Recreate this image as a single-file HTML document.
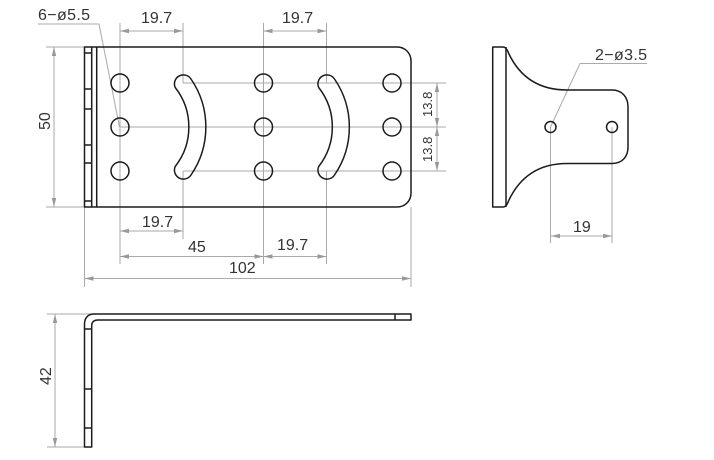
<!DOCTYPE html>
<html><head><meta charset="utf-8"><style>
html,body{margin:0;padding:0;background:#fff;width:714px;height:460px;overflow:hidden}
svg{display:block}
text{font-family:"Liberation Sans",sans-serif;font-size:16px;fill:#333}
.d{stroke:#aaa;stroke-width:1;fill:none}
.o{stroke:#1c1c1c;stroke-width:1.5;fill:none;stroke-linejoin:round}
.a{fill:#999;stroke:none}
</style></head><body>
<svg width="714" height="460" viewBox="0 0 714 460" xmlns="http://www.w3.org/2000/svg">
<defs>
<path id="ar" class="a" d="M0 0L9 -2.2V2.2Z"/>
<path id="al" class="a" d="M0 0L-9 -2.2V2.2Z"/>
<path id="au" class="a" d="M0 0L-2.2 9H2.2Z"/>
<path id="ad" class="a" d="M0 0L-2.2 -9H2.2Z"/>
<path id="slot" class="o" d="M-7.800 4.500A9 9 0 0 1 8 -4A85 85 0 0 1 8 92A9 9 0 0 1 -7.800 83.500A64 64 0 0 0 -7.800 4.500Z"/>
</defs>

<!-- grey dimension geometry: front view -->
<path class="d" d="M120 23V264M183 23V83M183 171V239M263.500 23V264M326.500 23V83M326.500 171V264
M183 83H446M120 127H446M183 171H446
M437 83V171
M46 47H84M46 207H84M54 47V207
M84.500 207V287M411 207V287
M120 31H183M263.500 31H326.500
M120 231H183M120 256.500H326.500M84.500 278.500H411
M38 24H99L119.500 127"/>
<use href="#ar" x="120" y="31"/><use href="#al" x="183" y="31"/>
<use href="#ar" x="263.500" y="31"/><use href="#al" x="326.500" y="31"/>
<use href="#ar" x="120" y="231"/><use href="#al" x="183" y="231"/>
<use href="#ar" x="120" y="256.500"/><use href="#al" x="263.500" y="256.500"/>
<use href="#ar" x="263.500" y="256.500"/><use href="#al" x="326.500" y="256.500"/>
<use href="#ar" x="84.500" y="278.500"/><use href="#al" x="411" y="278.500"/>
<use href="#au" x="54" y="47"/><use href="#ad" x="54" y="207"/>
<use href="#au" x="437" y="83"/><use href="#ad" x="437" y="127"/>
<use href="#au" x="437" y="127"/><use href="#ad" x="437" y="171"/>

<!-- front view outline -->
<path class="o" d="M84.500 47H397C405 47 411 53 411 61V193C411 201 405 207 397 207H84.500Z"/>
<path class="o" d="M91.700 47V207M96.700 47V207M84.500 53H91.700M84.500 89H91.700M84.500 109H91.700M84.500 145H91.700M84.500 163H91.700M84.500 201H91.700"/>
<circle class="o" cx="120" cy="83" r="9"/><circle class="o" cx="120" cy="127" r="9"/><circle class="o" cx="120" cy="171" r="9"/>
<circle class="o" cx="263.500" cy="83" r="9"/><circle class="o" cx="263.500" cy="127" r="9"/><circle class="o" cx="263.500" cy="171" r="9"/>
<circle class="o" cx="392" cy="83" r="9"/><circle class="o" cx="392" cy="127" r="9"/><circle class="o" cx="392" cy="171" r="9"/>
<use href="#slot" x="183" y="83"/><use href="#slot" x="326.500" y="83"/>

<!-- side view -->
<path class="d" d="M550.500 127V243M612 127V243M551 236H612M550.500 127L580 63.500H647"/>
<use href="#ar" x="551" y="236"/><use href="#al" x="612" y="236"/>
<path class="o" d="M492.700 47H503C506 47 507.500 50 508.500 53C515 67 530 90 567 90H612C622 90 628 97 628 107V147C628 157 622 163.500 612 163.500H567C530 163.500 515 187 508.500 201C507.500 204 506 207 503 207H492.700Z"/>
<path class="o" d="M506 47V207"/>
<circle class="o" cx="550.500" cy="127" r="5.500"/><circle class="o" cx="612" cy="127" r="5.500"/>

<!-- bottom view -->
<path class="d" d="M47 314H100M47 447H84M55 314V447"/>
<use href="#au" x="55" y="314"/><use href="#ad" x="55" y="447"/>
<path class="o" d="M411 314H94C88 314 84.500 318 84.500 324V447H91.700V326C91.700 322 94 320 98 320H411Z"/>
<path class="o" d="M395 314V320M84.500 329H91.700M84.500 389H91.700M84.500 428H91.700"/>

<!-- labels -->
<text x="38" y="20" style="letter-spacing:.35px">6−ø5.5</text>
<text x="141" y="23">19.7</text>
<text x="282" y="23">19.7</text>
<text x="142" y="227">19.7</text>
<text x="277" y="250">19.7</text>
<text x="188" y="252">45</text>
<text x="229" y="273">102</text>
<text x="573" y="232">19</text>
<text x="595" y="60" style="letter-spacing:.35px">2−ø3.5</text>
<text transform="translate(50 130) rotate(-90)">50</text>
<text transform="translate(51 385) rotate(-90)">42</text>
<text transform="translate(432 117) rotate(-90)" style="font-size:13px">13.8</text>
<text transform="translate(432 162) rotate(-90)" style="font-size:13px">13.8</text>
</svg>
</body></html>
